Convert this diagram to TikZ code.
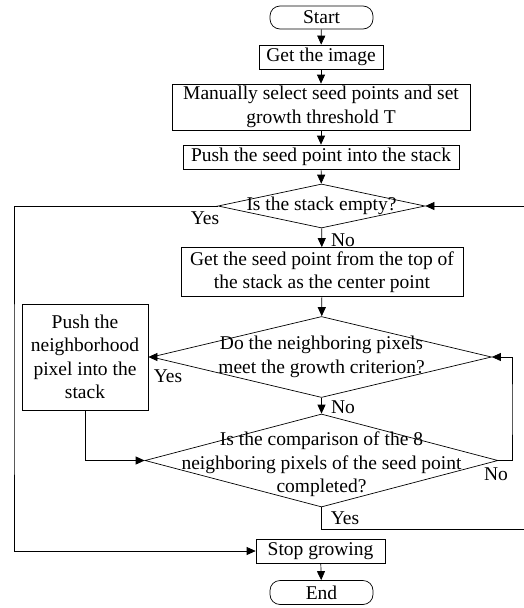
\documentclass[tikz,border=0pt]{standalone}
\usepackage{fontspec}
\setmainfont{Liberation Serif}
\usetikzlibrary{shapes.geometric,arrows.meta}

\begin{document}
\begin{tikzpicture}[x=1pt, y=-1pt, line width=0.7pt,
  font=\fontsize{19.5}{23.5}\selectfont,
  box/.style = {draw, rectangle, align=center, inner sep=0pt},
  term/.style = {draw, rectangle, rounded corners=10pt, inner sep=0pt, minimum width=103pt, minimum height=23pt},
  cond/.style = {draw, diamond, inner sep=0pt},
  lbl/.style = {inner sep=0pt},
  >={Triangle[length=9pt,width=8pt]}]
    \useasboundingbox (0,0) rectangle (523,608);

    \node[term] (start) at (321.5,17.5) {Start};
    \node[box, minimum width=124pt, minimum height=24pt] (img) at (321,57) {Get the image};
    \node[box, minimum width=298pt, minimum height=46pt] (sel) at (321,107) {Manually select seed points and set\\growth threshold T};
    \node[box, minimum width=276pt, minimum height=24pt] (push) at (321,157) {Push the seed point into the stack};
    \node[cond, minimum width=207pt, minimum height=44pt, label={center:Is the stack empty?}] (d1) at (321.5,206) {};
    \node[box, minimum width=282pt, minimum height=49pt] (get) at (322,272) {Get the seed point from the top of\\the stack as the center point};
    \node[cond, minimum width=340pt, minimum height=81pt, label={[align=center]center:Do the neighboring pixels\\meet the growth criterion?}] (d2) at (321.5,357) {};
    \node[box, minimum width=126pt, minimum height=106pt] (pushn) at (85,357) {Push the\\neighborhood\\pixel into the\\stack};
    \node[cond, minimum width=353pt, minimum height=93pt, label={[align=center, yshift=-4pt]center:Is the comparison of the 8\\neighboring pixels of the seed point\\completed?}] (d3) at (321.5,460.5) {};
    \node[box, minimum width=129pt, minimum height=24pt] (stop) at (320.5,551) {Stop growing};
    \node[term, minimum height=24pt] (finish) at (321.5,592.5) {End};

    \coordinate (lback) at (14,400);
    \coordinate (rloop) at (512,410);
    \coordinate (rback) at (525,529);

    \draw[->] (start) -- (img);
    \draw[->] (img) -- (sel);
    \draw[->] (sel) -- (push);
    \draw[->] (push) -- (d1);
    \draw[->] (d1) -- (get);
    \draw[->] (get) -- (d2);
    \draw[->] (d2.west) -- (pushn.east);
    \draw[->] (d2) -- (d3);
    \draw[->] (pushn.south) |- (d3.west);
    \draw[->] (d3.east) -| (rloop) |- (d2.east);
    \draw[->] (d3.south) |- (rback) |- (d1.east);
    \draw[->] (d1.west) -| (lback) |- (stop.west);
    \draw[->] (stop) -- (finish);

    \node[lbl] (yes1) at (205,218) {Yes};
    \node[lbl] (no1) at (343,240) {No};
    \node[lbl] (yes2) at (168,376) {Yes};
    \node[lbl] (no2) at (343,407) {No};
    \node[lbl] (no3) at (496,474) {No};
    \node[lbl] (yes3) at (345,518) {Yes};
\end{tikzpicture}
\end{document}
